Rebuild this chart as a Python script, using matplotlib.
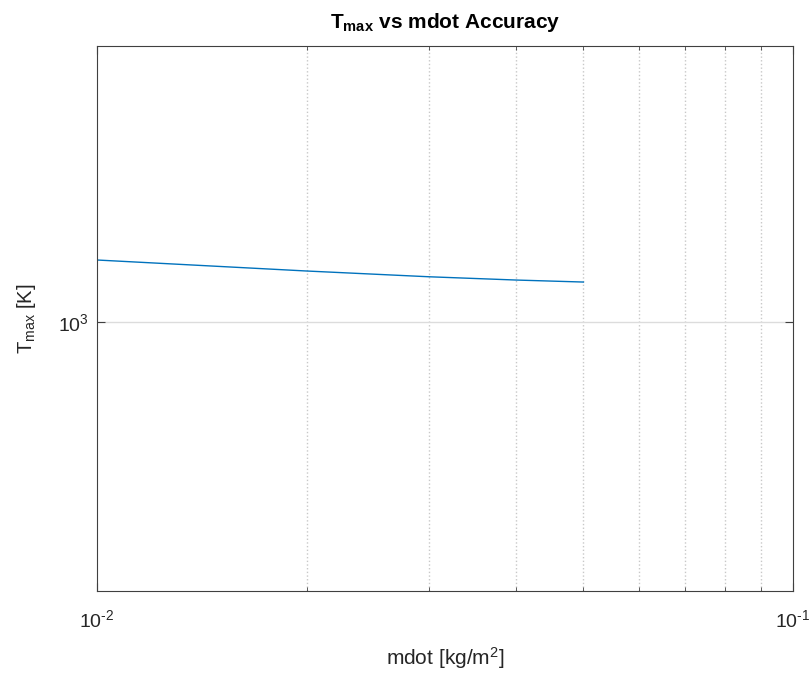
import numpy as np
import matplotlib
matplotlib.use('Agg')
import matplotlib.pyplot as plt
from matplotlib.ticker import NullFormatter, NullLocator, LogLocator, FuncFormatter

# mass flux values and peak temperature
mdot = [0.010, 0.020, 0.030, 0.040, 0.050]
t_max = [1024.5, 1020.1, 1017.8, 1016.5, 1015.7]

x_lim = [1e-2, 1e-1]
y_lim = [900, 1114]
y_ticks = [1000]

plt.rcParams.update({'font.family': ['Liberation Sans', 'DejaVu Sans'],
                     'mathtext.fontset': 'custom',
                     'mathtext.rm': 'Liberation Sans',
                     'mathtext.it': 'Liberation Sans:italic',
                     'mathtext.bf': 'Liberation Sans:bold',
                     'mathtext.default': 'regular'})


def pow_label(v, pos):
    # matlab style: plain hyphen in the exponent
    return r'10$^{\text{%d}}$' % int(round(np.log10(v)))


fig = plt.figure(figsize=(8.12, 6.77), dpi=100)
ax = fig.add_axes([0.1195, 0.127, 0.857, 0.805])

ax.loglog(mdot, t_max, color='#0072BD', lw=1.0)
ax.set_xlim(x_lim)
ax.set_ylim(y_lim)

ax.xaxis.set_major_locator(LogLocator(base=10, numticks=10))
ax.xaxis.set_minor_locator(LogLocator(base=10, subs=np.arange(2, 10), numticks=10))
ax.xaxis.set_minor_formatter(NullFormatter())
ax.xaxis.set_major_formatter(FuncFormatter(pow_label))
ax.set_yticks(y_ticks)
ax.yaxis.set_minor_locator(NullLocator())
ax.yaxis.set_major_formatter(FuncFormatter(pow_label))

ax.grid(True, which='minor', axis='x', linestyle=':', color='#c8c8c8', lw=1.0)
ax.grid(True, which='major', axis='y', linestyle='-', color='#dcdcdc', lw=1.0)
ax.set_axisbelow(True)

dark = '#262626'
for s in ax.spines.values():
    s.set_color('#404040')
ax.tick_params(axis='both', which='both', direction='in', top=True, right=True,
               colors='#404040', labelcolor=dark, labelsize=14)
ax.tick_params(which='major', length=6)
ax.tick_params(which='minor', length=3)
ax.tick_params(axis='x', pad=13)
ax.tick_params(axis='y', pad=6)

ax.set_title('T$_{max}$ vs mdot Accuracy', fontsize=15, fontweight='bold',
             color='black', pad=13)
ax.set_xlabel('mdot [kg/m$^2$]', fontsize=15, color=dark, labelpad=10)
ax.set_ylabel('T$_{max}$ [K]', fontsize=14.5, color=dark, labelpad=14)

fig.savefig('out.png', dpi=100)
